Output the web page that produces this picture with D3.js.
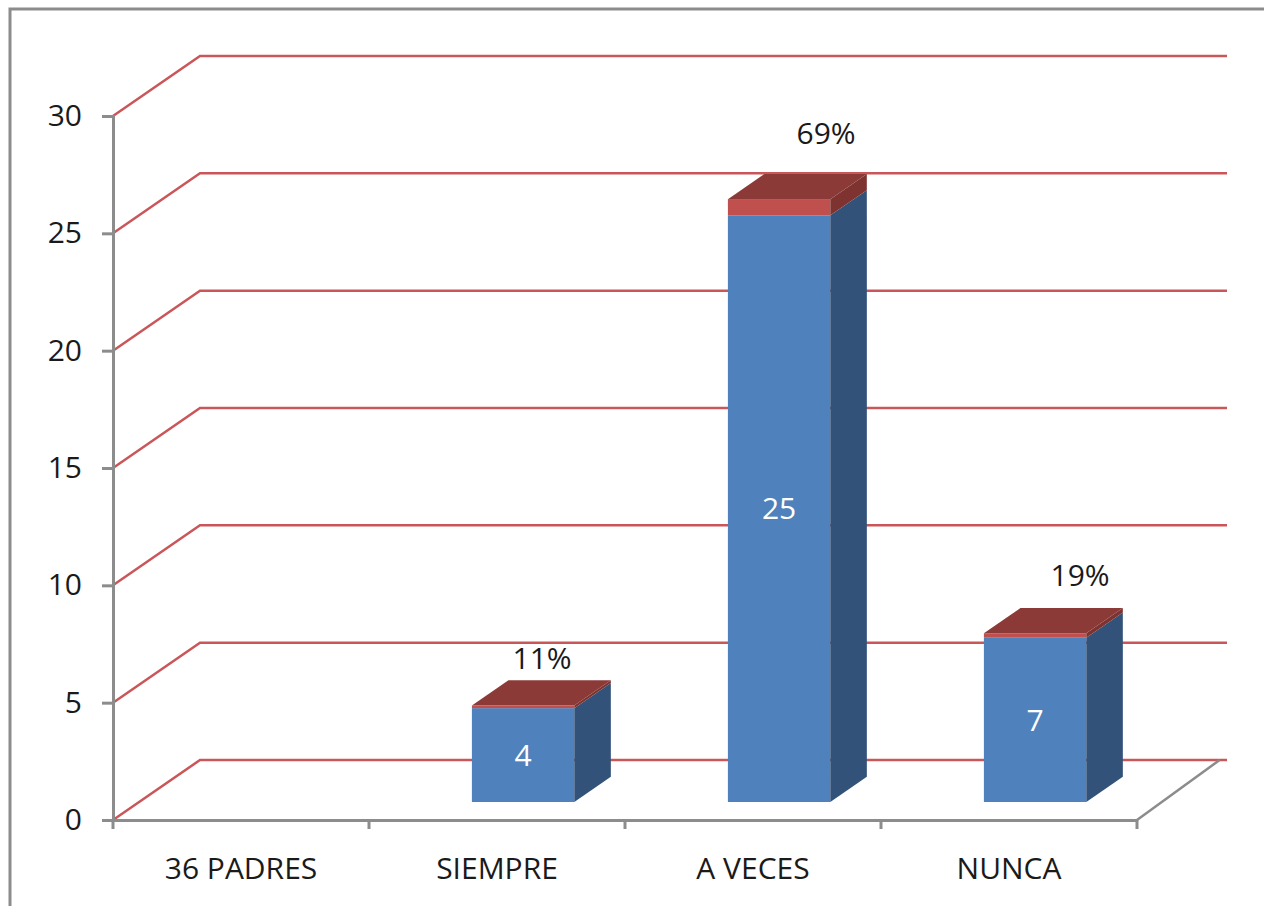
<!DOCTYPE html>
<html>
<head>
<meta charset="utf-8">
<title></title>
<style>
  body { margin: 0; background: #fff; }
  text { font-family: "Open Sans", sans-serif; }
</style>
</head>
<body>
<script src="https://d3js.org/d3.v7.min.js"></script>
<script>

// chart data
var categories = ["36 PADRES", "SIEMPRE", "A VECES", "NUNCA"];
var counts = [null, 4, 25, 7];          // blue series
var shares = [null, 0.11, 0.69, 0.19];  // red series (stacked on top)
var yTicks = [0, 5, 10, 15, 20, 25, 30];

// hand-placed percent labels (offset from bar front top centre)
var pctShift = [null, [19, -47], [47, -66], [45, -58]];

var W = 1264, H = 906;

var svg = d3.select("body").append("svg")
    .attr("width", W)
    .attr("height", H);

// outer frame
svg.append("rect")
    .attr("x", 10).attr("y", 9)
    .attr("width", W + 20).attr("height", H + 20)
    .attr("fill", "none")
    .attr("stroke", "#8c8c8c")
    .attr("stroke-width", 3);

// scales (front plane)
var x = d3.scaleBand().domain(categories).range([113, 1137]);
var y = d3.scaleLinear().domain([0, 30]).range([820, 116]);

// depth of floor in pixels
var DX = 87, DY = -60;
function px(xv, z) { return xv + DX * z; }
function py(yv, z) { return yv + DY * z; }

var gridColor = "#c9575a";

// back wall + left wall gridlines
var grid = svg.append("g");
yTicks.forEach(function(t) {
  grid.append("path")
      .attr("d", d3.line()([[x.range()[0], y(t)], [px(x.range()[0], 1), py(y(t), 1)], [1227, py(y(t), 1)]]))
      .attr("fill", "none")
      .attr("stroke", gridColor)
      .attr("stroke-width", 2.5);
});

// floor right edge
svg.append("line")
    .attr("x1", x.range()[1]).attr("y1", y(0))
    .attr("x2", px(x.range()[1], 0.95)).attr("y2", py(y(0), 1))
    .attr("stroke", "#8c8c8c")
    .attr("stroke-width", 2.5);

// bars
var barW = x.bandwidth() * 0.4;
var z0 = 0.3, z1 = 0.72;
var bdx = DX * (z1 - z0), bdy = DY * (z1 - z0);

var colors = {
  blue: { front: "#4f81bd", side: "#325279", top: "#3d6596" },
  red:  { front: "#c0504d", side: "#7e3331", top: "#8c3a38" }
};

var bars = svg.append("g");
categories.forEach(function(c, i) {
  if (counts[i] == null) return;
  var xl = px(x(c) + (x.bandwidth() - barW) / 2, z0);
  var xr = xl + barW;
  var segs = [
    { v0: 0, v1: counts[i], col: colors.blue },
    { v0: counts[i], v1: counts[i] + shares[i], col: colors.red }
  ];
  segs.forEach(function(s, k) {
    var yt = py(y(s.v1), z0), yb = py(y(s.v0), z0);
    bars.append("rect")
        .attr("x", xl).attr("y", yt)
        .attr("width", barW).attr("height", yb - yt)
        .attr("fill", s.col.front);
    bars.append("path")
        .attr("d", d3.line()([[xr, yb], [xr + bdx, yb + bdy], [xr + bdx, yt + bdy], [xr, yt]]) + "Z")
        .attr("fill", s.col.side);
    if (k === segs.length - 1) {
      bars.append("path")
          .attr("d", d3.line()([[xl, yt], [xl + bdx, yt + bdy], [xr + bdx, yt + bdy], [xr, yt]]) + "Z")
          .attr("fill", s.col.top);
    }
  });

  // value label
  bars.append("text")
      .attr("x", xl + barW / 2)
      .attr("y", (py(y(0), z0) + py(y(counts[i]), z0)) / 2)
      .attr("dy", "0.36em")
      .attr("text-anchor", "middle")
      .attr("fill", "#fff")
      .attr("font-size", 30)
      .text(counts[i]);

  // percent label
  bars.append("text")
      .attr("x", xl + barW / 2 + pctShift[i][0])
      .attr("y", py(y(counts[i] + shares[i]), z0) + pctShift[i][1])
      .attr("dy", "0.36em")
      .attr("text-anchor", "middle")
      .attr("fill", "#1a1a1a")
      .attr("font-size", 30)
      .text(d3.format(".0%")(shares[i]));
});

// y axis
var yAxis = d3.axisLeft(y).tickValues(yTicks).tickSize(11).tickPadding(20);
var gY = svg.append("g")
    .attr("transform", "translate(" + x.range()[0] + ",0)")
    .call(yAxis);
gY.select(".domain").attr("stroke", "#8c8c8c").attr("stroke-width", 3);
gY.selectAll(".tick line").attr("stroke", "#8c8c8c").attr("stroke-width", 3);
gY.selectAll(".tick text").attr("font-size", 30).attr("fill", "#1a1a1a")
    .attr("font-family", "Open Sans, sans-serif");

// x axis (labels at centres, ticks at band edges)
var xAxis = d3.axisBottom(x).tickSize(0).tickPadding(38);
var gX = svg.append("g")
    .attr("transform", "translate(0," + y(0) + ")")
    .call(xAxis);
gX.select(".domain").attr("stroke", "#8c8c8c").attr("stroke-width", 3);
gX.selectAll(".tick text").attr("font-size", 30).attr("fill", "#1a1a1a")
    .attr("font-family", "Open Sans, sans-serif");
var edges = categories.map(function(c) { return x(c); }).concat([x.range()[1]]);
gX.selectAll(".edge")
    .data(edges)
    .enter().append("line")
    .attr("x1", function(d) { return d; }).attr("x2", function(d) { return d; })
    .attr("y1", 0).attr("y2", 9)
    .attr("stroke", "#8c8c8c")
    .attr("stroke-width", 3);

</script>
</body>
</html>
